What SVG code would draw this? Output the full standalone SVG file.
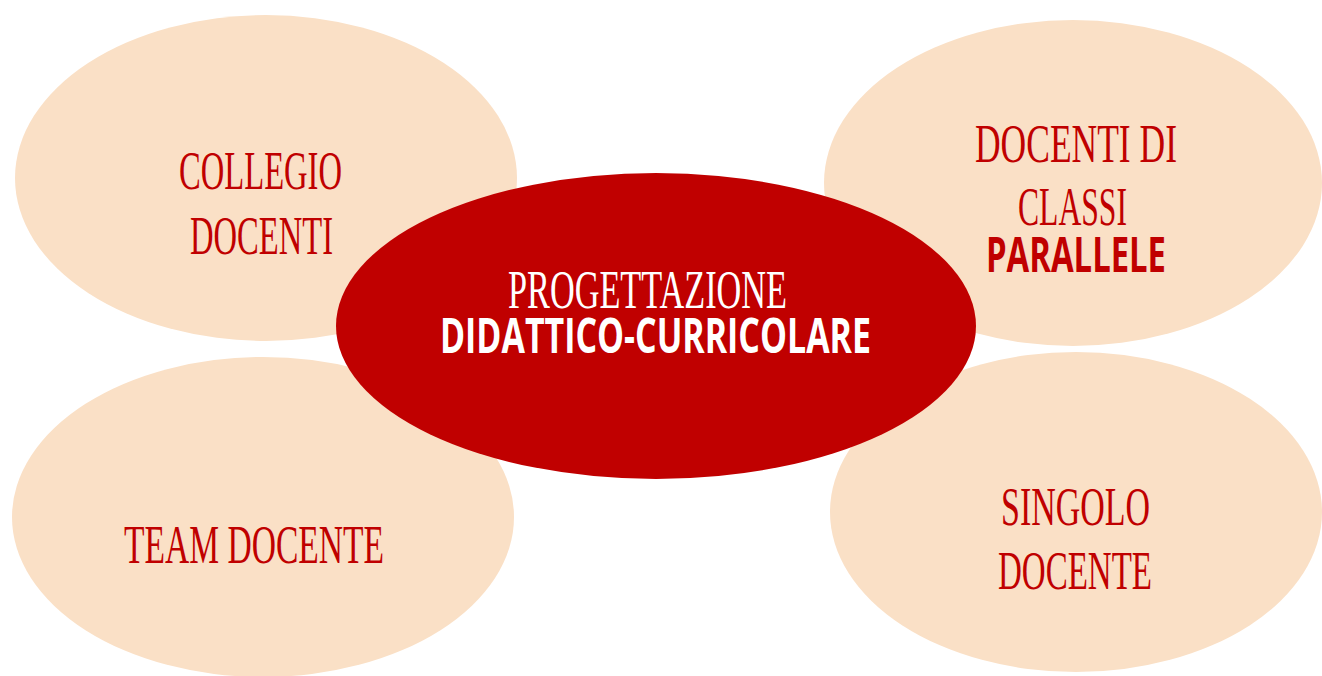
<svg xmlns="http://www.w3.org/2000/svg" width="1322" height="676" viewBox="0 0 1322 676">
<style>
.outer{fill:#FAE0C6;}
.center{fill:#C00000;}
.st{font-family:"Liberation Serif","Times New Roman",serif;font-size:54px;fill:#C00000;}
.sw{font-family:"Liberation Serif","Times New Roman",serif;font-size:54px;fill:#FFFFFF;}
.bb{font-family:"Open Sans","Liberation Sans",sans-serif;font-weight:bold;font-size:48px;}
</style>
<rect width="1322" height="676" fill="#FFFFFF"/>
<g id="collegio">
<ellipse class="outer" cx="266" cy="178" rx="251" ry="163"/>
<text class="st" x="179" y="189" textLength="163" lengthAdjust="spacingAndGlyphs">COLLEGIO</text>
<text class="st" x="190" y="254" textLength="143" lengthAdjust="spacingAndGlyphs">DOCENTI</text>
</g>
<g id="classi">
<ellipse class="outer" cx="1073" cy="183" rx="249" ry="163"/>
<text class="st" x="975" y="162" textLength="202" lengthAdjust="spacingAndGlyphs">DOCENTI  DI</text>
<text class="st" x="1018" y="225" textLength="109" lengthAdjust="spacingAndGlyphs">CLASSI</text>
<text class="bb" x="986" y="272" fill="#C00000" textLength="180" lengthAdjust="spacingAndGlyphs">PARALLELE</text>
</g>
<g id="team">
<ellipse class="outer" cx="263" cy="517" rx="251" ry="160"/>
<text class="st" x="124" y="563" textLength="260" lengthAdjust="spacingAndGlyphs">TEAM DOCENTE</text>
</g>
<g id="singolo">
<ellipse class="outer" cx="1076" cy="512" rx="246" ry="160"/>
<text class="st" x="1001" y="525" textLength="149" lengthAdjust="spacingAndGlyphs">SINGOLO</text>
<text class="st" x="998" y="589" textLength="154" lengthAdjust="spacingAndGlyphs">DOCENTE</text>
</g>
<g id="progettazione">
<ellipse class="center" cx="656" cy="326" rx="320" ry="153"/>
<text class="sw" x="508" y="308" textLength="279" lengthAdjust="spacingAndGlyphs">PROGETTAZIONE</text>
<text class="bb" x="440" y="353" fill="#FFFFFF" textLength="431" lengthAdjust="spacingAndGlyphs">DIDATTICO-CURRICOLARE</text>
</g>
<g id="connectors"></g>
</svg>
